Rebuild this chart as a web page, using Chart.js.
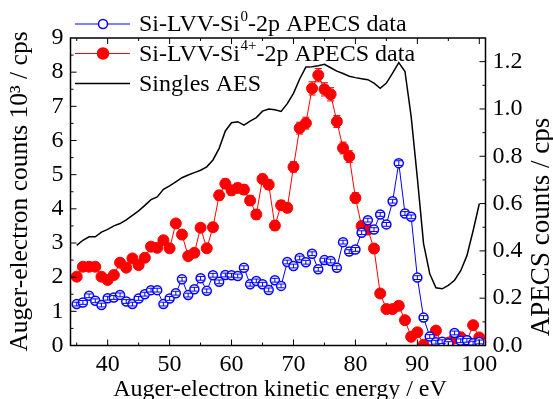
<!DOCTYPE html>
<html>
<head>
<meta charset="utf-8">
<script src="https://cdn.jsdelivr.net/npm/chart.js@4.4.0/dist/chart.umd.min.js"></script>
<style>
    html, body { margin: 0; padding: 0; background: #ffffff; }
    #wrap { width: 553px; height: 399px; position: relative; }
</style>
</head>
<body>
<div id="wrap"><canvas id="apecsChart"></canvas></div>
<script>
/* ==============================================
   Si-LVV APECS vs singles AES
   ============================================== */

// kinetic energy, eV
const energy = [35, 36, 37, 38, 39, 40, 41, 42, 43, 44, 45, 46, 47, 48, 49, 50,
    51, 52, 53, 54, 55, 56, 57, 58, 59, 60, 61, 62, 63, 64, 65, 66, 67, 68, 69, 70,
    71, 72, 73, 74, 75, 76, 77, 78, 79, 80, 81, 82, 83, 84, 85, 86, 87, 88, 89, 90,
    91, 92, 93, 94, 95, 96, 97, 98, 99, 100];

// Si-LVV-Si0-2p APECS, cps (right axis)
const si0Apecs = [0.175, 0.182, 0.210, 0.189, 0.171, 0.200, 0.203, 0.214, 0.186, 0.175, 0.199,
    0.217, 0.234, 0.234, 0.175, 0.199, 0.221, 0.280, 0.213, 0.238, 0.284, 0.231, 0.297,
    0.269, 0.298, 0.297, 0.294, 0.329, 0.259, 0.273, 0.259, 0.235, 0.276, 0.252, 0.353,
    0.336, 0.370, 0.352, 0.388, 0.322, 0.361, 0.357, 0.329, 0.437, 0.397, 0.406, 0.477,
    0.530, 0.490, 0.554, 0.512, 0.610, 0.771, 0.558, 0.544, 0.287, 0.118, 0.038, 0.014,
    0.016, 0.008, 0.053, 0.020, 0.022, 0.010, 0.015];
const si0Err = [0.008, 0.008, 0.008, 0.008, 0.008, 0.008, 0.008, 0.008, 0.008, 0.008, 0.008,
    0.008, 0.008, 0.008, 0.008, 0.008, 0.008, 0.008, 0.008, 0.008, 0.008, 0.008, 0.008,
    0.008, 0.008, 0.008, 0.008, 0.008, 0.008, 0.008, 0.008, 0.008, 0.008, 0.008, 0.008,
    0.008, 0.008, 0.008, 0.008, 0.008, 0.008, 0.008, 0.008, 0.008, 0.008, 0.008, 0.008,
    0.008, 0.008, 0.008, 0.008, 0.008, 0.010, 0.008, 0.008, 0.008, 0.008, 0.008, 0.008,
    0.008, 0.008, 0.008, 0.008, 0.008, 0.008, 0.008];

// Si-LVV-Si4+-2p APECS, cps (right axis)
const si4Apecs = [0.291, 0.333, 0.333, 0.333, 0.291, 0.277, 0.298, 0.350, 0.329, 0.368, 0.340,
    0.371, 0.418, 0.413, 0.445, 0.411, 0.516, 0.469, 0.378, 0.392, 0.498, 0.411, 0.500,
    0.635, 0.684, 0.656, 0.666, 0.659, 0.613, 0.554, 0.704, 0.680, 0.507, 0.593, 0.582,
    0.755, 0.919, 0.940, 1.087, 1.143, 1.083, 1.062, 0.947, 0.835, 0.799, 0.624, 0.505,
    0.490, 0.410, 0.220, 0.154, 0.154, 0.168, 0.107, 0.037, 0.056, 0.003, -0.020, 0.063,
    0.000, 0.012, 0.030, 0.035, 0.020, 0.086, 0.034];
const si4Err = [0.015, 0.015, 0.015, 0.015, 0.015, 0.015, 0.015, 0.015, 0.015, 0.015, 0.015,
    0.015, 0.015, 0.015, 0.015, 0.015, 0.015, 0.015, 0.015, 0.015, 0.015, 0.015, 0.018,
    0.020, 0.020, 0.020, 0.020, 0.020, 0.020, 0.020, 0.020, 0.020, 0.020, 0.020, 0.020,
    0.022, 0.025, 0.025, 0.028, 0.028, 0.028, 0.028, 0.025, 0.025, 0.025, 0.022, 0.020,
    0.020, 0.018, 0.015, 0.015, 0.015, 0.015, 0.015, 0.015, 0.015, 0.015, 0.015, 0.015,
    0.015, 0.015, 0.015, 0.015, 0.015, 0.015, 0.015];

// singles AES, 10^3 cps (left axis)
const singlesAes = [2.93, 3.08, 3.18, 3.18, 3.32, 3.40, 3.50, 3.57, 3.68, 3.81, 3.94, 4.10,
    4.27, 4.35, 4.57, 4.67, 4.79, 4.91, 4.99, 5.06, 5.13, 5.23, 5.43, 5.77, 6.28, 6.52,
    6.55, 6.45, 6.57, 6.67, 6.86, 6.92, 6.90, 6.85, 7.08, 7.38, 7.80, 8.15, 8.16, 8.19,
    8.23, 8.13, 8.03, 7.96, 7.88, 7.84, 7.81, 7.78, 7.68, 7.53, 7.68, 7.97, 8.28, 8.02,
    6.70, 4.90, 2.98, 2.10, 1.69, 1.66, 1.76, 1.91, 2.19, 2.63, 3.36, 4.15];

const xTicks = [40, 50, 60, 70, 80, 90, 100];
const leftTicks = [0, 1, 2, 3, 4, 5, 6, 7, 8, 9];
const rightTicks = [0, 0.2, 0.4, 0.6, 0.8, 1.0, 1.2];

const FONT = "'Liberation Serif', 'Times New Roman', serif";
const BLUE = '#0000ff';
const RED = '#ff0000';

const toPoints = (vals) => energy.map((e, i) => ({ x: e, y: vals[i] }));

// draw error bars right after each dataset so the layering follows the datasets
const errorBars = {
    id: 'errorBars',
    afterDatasetDraw(chart, args) {
        const ds = chart.data.datasets[args.index];
        if (!ds.errors) return;
        const ctx = chart.ctx;
        const yScale = chart.scales[ds.yAxisID];
        const area = chart.chartArea;
        ctx.save();
        ctx.beginPath();
        ctx.rect(area.left, area.top, area.right - area.left, area.bottom - area.top);
        ctx.clip();
        ctx.strokeStyle = ds.borderColor;
        ctx.lineWidth = 1;
        args.meta.data.forEach((pt, j) => {
            const v = ds.data[j].y;
            const e = ds.errors[j];
            const yt = yScale.getPixelForValue(v + e);
            const yb = yScale.getPixelForValue(v - e);
            ctx.beginPath();
            ctx.moveTo(pt.x, yt); ctx.lineTo(pt.x, yb);
            ctx.moveTo(pt.x - 3.5, yt); ctx.lineTo(pt.x + 3.5, yt);
            ctx.moveTo(pt.x - 3.5, yb); ctx.lineTo(pt.x + 3.5, yb);
            ctx.stroke();
        });
        ctx.restore();
    }
};

// frame, inward ticks, axis titles and legend (origin style)
const frameAndLabels = {
    id: 'frameAndLabels',
    afterDraw(chart) {
        const ctx = chart.ctx;
        const a = chart.chartArea;
        const sx = chart.scales.x, sy = chart.scales.y, sy2 = chart.scales.y2;
        ctx.save();
        ctx.strokeStyle = '#000';
        ctx.lineWidth = 1.5;
        ctx.strokeRect(a.left, a.top, a.right - a.left, a.bottom - a.top);

        ctx.lineWidth = 1;
        ctx.beginPath();
        // x ticks, bottom and top
        for (let v = 35; v <= 100; v += 5) {
            const px = sx.getPixelForValue(v);
            const len = v % 10 === 0 ? 6 : 3;
            ctx.moveTo(px, a.bottom); ctx.lineTo(px, a.bottom - len);
            ctx.moveTo(px, a.top); ctx.lineTo(px, a.top + len);
        }
        // left ticks
        for (let v = 0.5; v < 9; v += 0.5) {
            const py = sy.getPixelForValue(v);
            const len = v % 1 === 0 ? 6 : 3;
            ctx.moveTo(a.left, py); ctx.lineTo(a.left + len, py);
        }
        // right ticks
        for (let k = 1; k <= 12; k++) {
            const py = sy2.getPixelForValue(k / 10);
            const len = k % 2 === 0 ? 6 : 3;
            ctx.moveTo(a.right, py); ctx.lineTo(a.right - len, py);
        }
        ctx.stroke();

        // axis titles
        ctx.fillStyle = '#000';
        ctx.font = '24px ' + FONT;
        ctx.textBaseline = 'alphabetic';
        ctx.textAlign = 'center';
        ctx.fillText('Auger-electron kinetic energy / eV', (a.left + a.right) / 2 + 2, 396);

        ctx.save();
        ctx.font = '25.5px ' + FONT;
        ctx.translate(27, 191.5);
        ctx.rotate(-Math.PI / 2);
        ctx.fillText('Auger-electron counts 10\u00B3 / cps', 0, 0);
        ctx.restore();

        ctx.save();
        ctx.font = '27px ' + FONT;
        ctx.translate(549, 227);
        ctx.rotate(-Math.PI / 2);
        ctx.fillText('APECS counts / cps', 0, 0);
        ctx.restore();

        // legend
        const rows = [
            { y: 24, color: BLUE, marker: 'open', text: ['Si-LVV-Si', '0', '-2p APECS data'] },
            { y: 53.5, color: RED, marker: 'filled', text: ['Si-LVV-Si', '4+', '-2p APECS data'] },
            { y: 83.5, color: '#000', marker: null, text: ['Singles AES', '', ''] }
        ];
        rows.forEach(r => {
            ctx.strokeStyle = r.color;
            ctx.lineWidth = r.marker ? 1 : 1.5;
            ctx.beginPath();
            ctx.moveTo(75, r.y); ctx.lineTo(130, r.y);
            ctx.stroke();
            if (r.marker) {
                ctx.beginPath();
                ctx.arc(103, r.y, r.marker === 'open' ? 4.5 : 5.5, 0, Math.PI * 2);
                ctx.fillStyle = r.marker === 'open' ? '#fff' : r.color;
                ctx.fill();
                ctx.lineWidth = 1.5;
                ctx.stroke();
            }
            ctx.fillStyle = '#000';
            ctx.textAlign = 'left';
            ctx.textBaseline = 'middle';
            let x = 139;
            ctx.font = '24px ' + FONT;
            ctx.fillText(r.text[0], x, r.y + 1);
            x += ctx.measureText(r.text[0]).width;
            if (r.text[1]) {
                ctx.font = '15px ' + FONT;
                ctx.fillText(r.text[1], x + 0.5, r.y - 7);
                x += ctx.measureText(r.text[1]).width + 0.5;
                ctx.font = '24px ' + FONT;
                ctx.fillText(r.text[2], x, r.y + 1);
            }
        });
        ctx.restore();
    }
};

function initializeChart() {
    const canvas = document.getElementById('apecsChart');
    Chart.defaults.font.family = FONT;
    Chart.defaults.color = '#000';

    new Chart(canvas.getContext('2d'), {
        type: 'line',
        data: {
            datasets: [
                {
                    label: 'Si-LVV-Si0-2p APECS data',
                    data: toPoints(si0Apecs),
                    errors: si0Err,
                    yAxisID: 'y2',
                    borderColor: BLUE,
                    borderWidth: 1,
                    pointRadius: 4.5,
                    pointBackgroundColor: '#ffffff',
                    pointBorderColor: BLUE,
                    pointBorderWidth: 1.5,
                    tension: 0,
                    order: 0
                },
                {
                    label: 'Si-LVV-Si4+-2p APECS data',
                    data: toPoints(si4Apecs),
                    errors: si4Err,
                    yAxisID: 'y2',
                    borderColor: RED,
                    borderWidth: 1,
                    pointRadius: 5.5,
                    pointBackgroundColor: RED,
                    pointBorderColor: RED,
                    pointBorderWidth: 1,
                    tension: 0,
                    order: 1
                },
                {
                    label: 'Singles AES',
                    data: toPoints(singlesAes),
                    yAxisID: 'y',
                    borderColor: '#000000',
                    borderWidth: 1.5,
                    pointRadius: 0,
                    tension: 0,
                    order: 2
                }
            ]
        },
        options: {
            responsive: true,
            maintainAspectRatio: false,
            animation: false,
            layout: { padding: { top: 38, left: 0, right: 0, bottom: 0 } },
            plugins: {
                legend: { display: false },
                tooltip: { enabled: false }
            },
            scales: {
                x: {
                    type: 'linear',
                    min: 34,
                    max: 101,
                    grid: { display: false, drawTicks: false },
                    border: { display: false },
                    afterBuildTicks: (s) => { s.ticks = xTicks.map(v => ({ value: v })); },
                    afterFit: (s) => { s.height = 53.5; },
                    ticks: { padding: 5, font: { size: 24 }, color: '#000', maxRotation: 0 }
                },
                y: {
                    position: 'left',
                    min: 0,
                    max: 9,
                    grid: { display: false, drawTicks: false },
                    border: { display: false },
                    afterBuildTicks: (s) => { s.ticks = leftTicks.map(v => ({ value: v })); },
                    afterFit: (s) => { s.width = 70.5; },
                    ticks: { padding: 7, font: { size: 24 }, color: '#000' }
                },
                y2: {
                    position: 'right',
                    min: 0,
                    max: 1.3,
                    grid: { display: false, drawTicks: false },
                    border: { display: false },
                    afterBuildTicks: (s) => { s.ticks = rightTicks.map(v => ({ value: v })); },
                    afterFit: (s) => { s.width = 67.5; },
                    ticks: {
                        padding: 7,
                        font: { size: 24 },
                        color: '#000',
                        callback: (v) => Number(v).toFixed(1)
                    }
                }
            }
        },
        plugins: [errorBars, frameAndLabels]
    });
}

document.addEventListener('DOMContentLoaded', initializeChart);
</script>
</body>
</html>
